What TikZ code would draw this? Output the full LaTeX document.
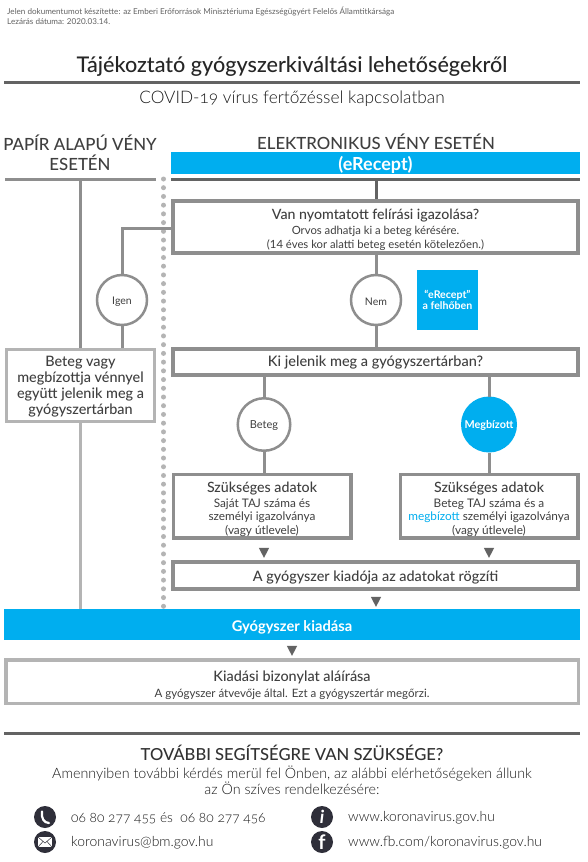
\documentclass[tikz,border=0pt]{standalone}
\usepackage{fontspec}
\setmainfont{Lato}
\newfontfamily\lightf{Lato Light}[Numbers=OldStyle]
\newfontfamily\medf{Lato Medium}
\usetikzlibrary{shapes.geometric}
\definecolor{kek}{HTML}{00AEEF}
\definecolor{sotet}{HTML}{636363}
\definecolor{szurke}{HTML}{8E8E8E}
\definecolor{vilagos}{HTML}{B4B4B4}
\definecolor{szoveg}{HTML}{3F3F3F}
\definecolor{ikon}{HTML}{2F2F3A}
\newcommand{\fs}[2]{\fontsize{#1}{#2}\selectfont}
\newcommand{\sullyed}[2]{\raisebox{-#1}[\height][\depth]{#2}}
\tikzset{
  box/.style={draw=szurke,line width=3.5pt,fill=white,inner sep=0pt,align=center,text=szoveg},
  lbox/.style={box,draw=vilagos},
  conn/.style={draw=szurke,line width=3pt},
  lconn/.style={draw=vilagos,line width=3pt},
  rule/.style={draw=sotet,line width=3pt},
  circ/.style={circle,draw=szurke,line width=2.5pt,minimum size=50pt,inner sep=0pt,fill=white,text=szoveg,font=\fs{10.5}{12}},
  bar/.style={fill=kek,inner sep=0pt,text=white,font=\bfseries},
  tri/.style={draw=none,fill=sotet,isosceles triangle,isosceles triangle apex angle=55,shape border rotate=-90,minimum size=10pt,inner sep=0pt},
  dotm/.style={circle,fill=vilagos,minimum size=5pt,inner sep=0pt},
  head/.style={text=szoveg,font=\medf\fs{16.8}{20}},
  ic/.style={circle,fill=ikon,minimum size=22pt,inner sep=0pt,text=white},
  cont/.style={anchor=west,text=black!90,font=\lightf\fs{13.9}{15}},
}
\begin{document}
\begin{tikzpicture}[x=1pt,y=-1pt]
\useasboundingbox (0,0) rectangle (587,862);
\fill[white] (0,0) rectangle (587,862);
% header
\node[anchor=west,inner sep=0pt,text=sotet,font=\fs{8.1}{10}] (h1) at (7,11) {Jelen dokumentumot készítette: az Emberi Erőforrások Minisztériuma Egészségügyért Felelős Államtitkársága};
\node[anchor=west,inner sep=0pt,text=sotet,font=\fs{8.1}{10}] (h2) at (7,22) {Lezárás dátuma: 2020.03.14.};
\node[inner sep=0pt,text=black!85,font=\medf\fs{21.6}{24}] (title) at (292,66.5) {Tájékoztató gyógyszerkiváltási lehetőségekről};
\coordinate (r1a) at (4,82); \coordinate (r1b) at (580,82);
\draw[rule] (r1a) -- (r1b);
\node[inner sep=0pt,text=black!90,font=\lightf\fs{17.3}{20}] (subt) at (292,99) {COVID-19 vírus fertőzéssel kapcsolatban};
% column heads
\node[head,align=center,inner sep=0pt] (papir) at (80,153) {PAPÍR ALAPÚ VÉNY\\ESETÉN};
\node[head,inner sep=0pt] (elek) at (376,142) {ELEKTRONIKUS VÉNY ESETÉN};
\node[bar,minimum width=409pt,minimum height=22pt,font=\bfseries\fs{18}{20}] (erec) at (375.5,163) {\sullyed{1.5pt}{(eRecept)}};
\coordinate (la) at (5,179); \coordinate (lb) at (156,179);
\coordinate (ra) at (171,179); \coordinate (rb) at (580,179);
% dots
\foreach \i in {0,...,49} \node[dotm] (d\i) at (163.5,179+8.72*\i) {};
% boxes
\node[box,minimum width=405pt,minimum height=52pt,font=\fs{11.3}{13.3}] (b1) at (375.5,227)
  {\rule{0pt}{16pt}{\fs{14.2}{16}\medf Van nyomtatott felírási igazolása?}\\[1.7pt]Orvos adhatja ki a beteg kérésére.\\(14 éves kor alatti beteg esetén kötelezően.)};
\node[circ] (igen) at (122,300) {\sullyed{1.5pt}{Igen}};
\node[circ] (nem) at (376,300) {\sullyed{1.5pt}{Nem}};
\node[fill=kek,minimum width=61pt,minimum height=60pt,inner sep=0pt,align=center,text=white,font=\bfseries\fs{10.6}{11}] (felho) at (447.5,300) {“eRecept”\\a felhőben};
\node[box,minimum width=405pt,minimum height=26pt,font=\medf\fs{14.5}{16}] (b2) at (375.5,362) {Ki jelenik meg a gyógyszertárban?};
\node[lbox,minimum width=148pt,minimum height=72pt,font=\medf\fs{14.4}{16}] (lb1) at (80.5,385.5) {\rule{0pt}{13pt}Beteg vagy\\megbízottja vénnyel\\együtt jelenik meg a\\gyógyszertárban};
\node[circ,minimum size=52.5pt,font=\fs{11}{13}] (beteg) at (264,424.5) {\sullyed{1.5pt}{Beteg}};
\node[circ,minimum size=53.5pt,draw=kek,fill=kek,text=white,font=\bfseries\fs{10.8}{13}] (megb) at (489,424.5) {\sullyed{1pt}{Megbízott}};
\node[box,minimum width=177.5pt,minimum height=63.5pt,font=\fs{11.8}{13.5}] (s1) at (262,506)
  {\rule{0pt}{17pt}{\fs{14.2}{15.5}\medf Szükséges adatok}\\[1.5pt]Saját TAJ száma és\\személyi igazolványa\\(vagy útlevele)};
\node[box,minimum width=177.5pt,minimum height=63.5pt,font=\fs{11.8}{13.5}] (s2) at (489,506)
  {\rule{0pt}{17pt}{\fs{14.2}{15.5}\medf Szükséges adatok}\\[1.5pt]Beteg TAJ száma és a\\\textcolor{kek}{megbízott} személyi igazolványa\\(vagy útlevele)};
\node[tri] (t1) at (264,551) {};
\node[tri] (t2) at (489,551) {};
\node[box,minimum width=405pt,minimum height=27pt,font=\medf\fs{14.4}{16}] (b3) at (375.5,575.5) {\sullyed{2pt}{A gyógyszer kiadója az adatokat rögzíti}};
\node[tri] (t3) at (376,600) {};
\node[bar,minimum width=576pt,minimum height=31pt,font=\bfseries\fs{14.7}{17}] (gy) at (292,624.5) {\sullyed{3pt}{Gyógyszer kiadása}};
\node[tri] (t4) at (292,649) {};
\node[lbox,minimum width=572.5pt,minimum height=43.5pt,font=\fs{11.5}{16}] (kb) at (292,681.5)
  {\rule{0pt}{18pt}{\fs{14.4}{16.5}\medf Kiadási bizonylat aláírása}\\A gyógyszer átvevője által. Ezt a gyógyszertár megőrzi.};
% rules + connectors
\draw[lconn,draw=szurke] (la) -- (lb);
\draw[rule] (ra) -- (rb);
\coordinate (c0) at (80,179);
\draw[conn] (c0) -- (c0 |- lb1.north);
\draw[lconn] (c0 |- lb1.south) -- (c0 |- gy.north);
\coordinate (c1) at (376,179);
\draw[rule] (c1) -- (c1 |- b1.north);
\coordinate (c2) at (122,228);
\draw[conn] (b1.west |- c2) -- (c2) -- (igen.north);
\draw[conn] (igen.south) -- (igen.south |- lb1.north);
\draw[conn] (nem.north |- b1.south) -- (nem.north);
\draw[conn] (nem.south) -- (nem.south |- b2.north);
\draw[conn] (beteg.north |- b2.south) -- (beteg.north);
\draw[conn] (beteg.south) -- (beteg.south |- s1.north);
\draw[conn] (megb.north |- b2.south) -- (megb.north);
\draw[conn] (megb.south) -- (megb.south |- s2.north);
% footer
\coordinate (r2a) at (4,733); \coordinate (r2b) at (580,733);
\draw[rule] (r2a) -- (r2b);
\node[inner sep=0pt,text=szoveg!80!black,font=\medf\fs{16.6}{20}] (tov) at (292,753) {TOVÁBBI SEGÍTSÉGRE VAN SZÜKSÉGE?};
\node[inner sep=0pt,align=center,text=black!90,font=\lightf\fs{14.3}{16}] (amen) at (292,780) {Amennyiben további kérdés merül fel Önben, az alábbi elérhetőségeken állunk\\az Ön szíves rendelkezésére:};
\node[ic] (i1) at (45,817) {};
\draw[white,line width=2.2pt,line cap=round] (42,811.5) .. controls (41,818) and (44,823) .. (49,823);
\node[ic] (i2) at (45,842) {};
\fill[white] (38,837) rectangle (52,847);
\draw[ikon,line width=.5pt] (38,837) -- (45,843) -- (52,837) (38,847) -- (43,841.5) (52,847) -- (47,841.5);
\node[ic,font=\bfseries\itshape\fs{18}{20}] (i3) at (322,817) {i};
\node[ic,font=\bfseries\fs{20}{22}] (i4) at (322,842) {\raisebox{-3pt}{f}};
\node[cont,inner sep=0pt,font=\lightf\fs{13.7}{15}] (p) at (71,818) {06 80 277 455 és \ 06 80 277 456};
\node[cont,inner sep=0pt] (m) at (71,843) {koronavirus@bm.gov.hu};
\node[cont,inner sep=0pt] (w) at (348,818) {www.koronavirus.gov.hu};
\node[cont,inner sep=0pt] (fb) at (348,843) {www.fb.com/koronavirus.gov.hu};
\end{tikzpicture}
\end{document}
